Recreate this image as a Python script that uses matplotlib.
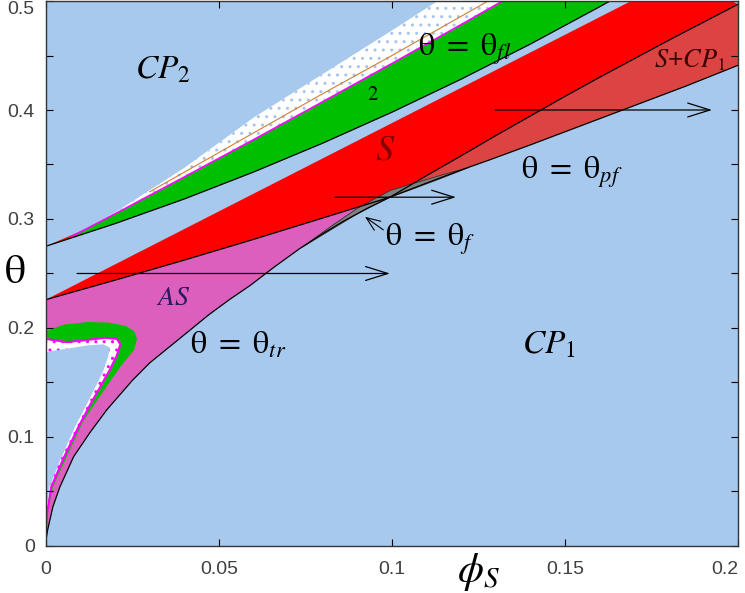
import numpy as np
import matplotlib
matplotlib.use('Agg')
import matplotlib.pyplot as plt

plt.rcParams['mathtext.fontset'] = 'stix'
plt.rcParams['font.family'] = ['Liberation Sans', 'DejaVu Sans']
plt.rcParams['hatch.linewidth'] = 1.0

# lower edge of the stable set: theta_tr up to the cusp, theta_pf beyond it
lower_x = [0, 0.0005, 0.002, 0.004, 0.008, 0.0127, 0.0176, 0.025, 0.03, 0.0358,
           0.042, 0.047, 0.053, 0.059, 0.066, 0.0734, 0.08, 0.086, 0.093, 0.0994,
           0.11, 0.12, 0.128, 0.14, 0.155, 0.17, 0.185, 0.2]
lower_y = [0.005, 0.015, 0.036, 0.054, 0.082, 0.104, 0.125, 0.152, 0.168, 0.183,
           0.199, 0.212, 0.226, 0.239, 0.256, 0.273, 0.2865, 0.298, 0.310, 0.320,
           0.333, 0.345, 0.354, 0.368, 0.386, 0.404, 0.422, 0.441]
CUSP = 19  # index of the cusp in lower_x

# bottom edge of S, left of the cusp (S / AS) and right of it (S / S+CP1)
s_low_pre_x = [0, 0.02, 0.04, 0.06, 0.08, 0.0994]
s_low_pre_y = [0.226, 0.2439, 0.2623, 0.2813, 0.3009, 0.320]
s_low_post_x = [0.0994, 0.11, 0.12, 0.13, 0.14, 0.15, 0.16, 0.17, 0.18, 0.19, 0.2]
s_low_post_y = [0.320, 0.3398, 0.358, 0.3765, 0.3945, 0.4125, 0.430, 0.447, 0.464,
                0.4805, 0.497]

# top edge of S (period-2 band above)
s_top_x = [0, 0.02, 0.04, 0.06, 0.08, 0.1, 0.12, 0.14, 0.16, 0.18]
s_top_y = [0.275, 0.2958, 0.3184, 0.3431, 0.3696, 0.398, 0.4283, 0.4605, 0.4947, 0.5307]

# top of the period-2 band and of the chaotic band (theta_fl)
p2_top_x = [0.0069, 0.02, 0.04, 0.06, 0.08, 0.1, 0.12, 0.14]
p2_top_y = [0.283, 0.3048, 0.3386, 0.3728, 0.4076, 0.4427, 0.4784, 0.5145]
chaos_top_x = [0.0069, 0.02, 0.04, 0.06, 0.08, 0.1, 0.12]
chaos_top_y = [0.283, 0.306, 0.347, 0.393, 0.433, 0.473, 0.514]
chaos_mid_x = [0.03, 0.04, 0.06, 0.08, 0.1, 0.12, 0.135]
chaos_mid_y = [0.325, 0.343, 0.379, 0.415, 0.450, 0.486, 0.513]

# tongue of CP2 inside AS, bottom left
tongue_p2_x = [0, 0.005, 0.012, 0.018, 0.023, 0.0255, 0.0263, 0.0255, 0.0214,
               0.0142, 0.0107, 0.006, 0.002, 0.0005, 0]
tongue_p2_y = [0.197, 0.203, 0.2055, 0.205, 0.202, 0.197, 0.19, 0.18, 0.164,
               0.131, 0.114, 0.082, 0.054, 0.03, 0.012]
tongue_chaos_x = [0, 0.006, 0.012, 0.017, 0.0205, 0.0215, 0.0205, 0.0185, 0.0125,
                  0.0095, 0.005, 0.0015, 0.0003, 0]
tongue_chaos_y = [0.190, 0.187, 0.189, 0.191, 0.19, 0.185, 0.175, 0.162, 0.128,
                  0.11, 0.08, 0.054, 0.03, 0.014]
tongue_cp2_x = [0, 0.006, 0.012, 0.0165, 0.0185, 0.018, 0.0165, 0.0115, 0.0085,
                0.0043, 0.001, 0.0001, 0]
tongue_cp2_y = [0.178, 0.181, 0.184, 0.185, 0.182, 0.174, 0.16, 0.128, 0.11,
                0.08, 0.054, 0.03, 0.016]

# thin fold sliver (theta_f) along the lower edge near the cusp
fold_x = [0.074, 0.082, 0.09, 0.0994, 0.106, 0.114, 0.122]
fold_lo = [0.274, 0.2894, 0.3048, 0.320, 0.3275, 0.337, 0.347]
fold_hi = [0.274, 0.2924, 0.3098, 0.326, 0.3325, 0.340, 0.347]

# horizontal sweeps (theta, phi start, phi end)
sweeps = [(0.40, 0.1298, 0.1925), (0.32, 0.0835, 0.1185), (0.25, 0.009, 0.0994)]

BLUE = '#a7c9ee'
RED = '#ff0000'
DARKRED = '#dc4444'
GREEN = '#00bf00'
PINK = '#dc5fbe'


def band(xa, ya, xb, yb):
    # polygon between curve a (forward) and curve b (backward)
    xa, ya, xb, yb = map(np.asarray, (xa, ya, xb, yb))
    return np.concatenate([xa, xb[::-1]]), np.concatenate([ya, yb[::-1]])


fig = plt.figure(figsize=(7.45, 5.93), dpi=100)
ax = fig.add_axes([0.0617, 0.0793, 0.9289, 0.9190])
ax.set_facecolor(BLUE)

# S + CP1 wedge right of the cusp
px, py = band(s_low_post_x, s_low_post_y, lower_x[CUSP:], lower_y[CUSP:])
ax.fill(px, py, color=DARKRED, lw=0)

# S band
sx = s_low_pre_x + s_low_post_x[1:]
sy = s_low_pre_y + s_low_post_y[1:]
px, py = band(s_top_x, s_top_y, sx, sy)
ax.fill(np.append(px, 0.2), np.append(py, 0.55), color=RED, lw=0)

# period-2 band and chaotic band above it
px, py = band(p2_top_x, p2_top_y, s_top_x, s_top_y)
ax.fill(px, py, color=GREEN, lw=0)
px, py = band(chaos_top_x, chaos_top_y, p2_top_x, p2_top_y)
ax.fill(px, py, facecolor='white', edgecolor='#a8c4ea', hatch='..', lw=0)
ax.plot(p2_top_x, p2_top_y, color='#ff00ff', lw=1.2)
ax.plot(chaos_mid_x, chaos_mid_y, color='#d08030', lw=0.8)

# AS region left of the cusp
px, py = band(s_low_pre_x, s_low_pre_y, lower_x[:CUSP + 1], lower_y[:CUSP + 1])
ax.fill(px, py, color=PINK, lw=0)

# CP2 tongue inside AS
ax.fill(tongue_p2_x, tongue_p2_y, color=GREEN, lw=0)
ax.fill(tongue_chaos_x, tongue_chaos_y, facecolor='white', edgecolor='#ff00ff',
        lw=1.5, hatch='..')
ax.fill(tongue_cp2_x, tongue_cp2_y, color=BLUE, lw=0)

# fold sliver
px, py = band(fold_x, fold_hi, fold_x, fold_lo)
ax.fill(px, py, facecolor='#808080', edgecolor='#303030', lw=0.6)

# boundary curves
ax.plot(lower_x, lower_y, color='k', lw=0.9)
ax.plot(s_top_x, s_top_y, color='k', lw=0.9)
ax.plot(sx, sy, color='k', lw=0.9)

for th, x0, x1 in sweeps:
    ax.annotate('', xy=(x1, th), xytext=(x0, th),
                arrowprops=dict(arrowstyle='->,head_length=1.6,head_width=0.5',
                                color='k', lw=0.9, shrinkA=0, shrinkB=0))
ax.annotate('', xy=(0.0922, 0.302), xytext=(0.0975, 0.290),
            arrowprops=dict(arrowstyle='->,head_length=1.0,head_width=0.4',
                            color='k', lw=0.8, shrinkA=0, shrinkB=0))

# region labels
ax.text(0.0338, 0.437, r'$CP_2$', fontsize=24, ha='center', va='center')
ax.text(0.121, 0.456, r'$\mathrm{\theta}\ =\ \mathrm{\theta}_{fl}$', fontsize=23,
        ha='center', va='center')
ax.text(0.0945, 0.414, r'$\mathrm{2}$', fontsize=15, ha='center', va='center')
ax.text(0.098, 0.363, r'$S$', fontsize=26, ha='center', va='center', color='#800000')
ax.text(0.186, 0.446, r'$S$+$CP_{1}$', fontsize=19, ha='center', va='center',
        color='#400000')
ax.text(0.152, 0.343, r'$\mathrm{\theta}\ =\ \mathrm{\theta}_{pf}$', fontsize=23,
        ha='center', va='center')
ax.text(0.111, 0.281, r'$\mathrm{\theta}\ =\ \mathrm{\theta}_{f}$', fontsize=23,
        ha='center', va='center')
ax.text(0.0367, 0.2275, r'$AS$', fontsize=20, ha='center', va='center', color='#301860')
ax.text(0.0555, 0.184, r'$\mathrm{\theta}\ =\ \mathrm{\theta}_{tr}$', fontsize=23,
        ha='center', va='center')
ax.text(0.1454, 0.184, r'$CP_1$', fontsize=24, ha='center', va='center')

ax.set_xlim(0, 0.2)
ax.set_ylim(0, 0.5)
ax.set_xticks([0, 0.05, 0.1, 0.15, 0.2])
ax.set_xticklabels(['0', '0.05', '0.1', '0.15', '0.2'])
ax.set_yticks([0, 0.1, 0.2, 0.3, 0.4, 0.5])
ax.set_yticklabels(['0', '0.1', '0.2', '0.3', '0.4', '0.5'])
ax.set_yticks([0.05, 0.15, 0.25, 0.35, 0.45], minor=True)
ax.tick_params(which='both', direction='in', top=True, right=True, length=5,
               width=0.8, labelsize=14, labelcolor='#404040')
ax.tick_params(axis='x', pad=11)
ax.tick_params(axis='y', pad=8)
ax.get_xticklabels()[-1].set_horizontalalignment('right')
ax.get_yticklabels()[-1].set_verticalalignment('top')
for sp in ax.spines.values():
    sp.set_linewidth(1.0)
    sp.set_color('#333333')

fig.text(0.020, 0.541, r'$\mathrm{\theta}$', fontsize=30, ha='center', va='center')
fig.text(0.642, 0.035, r'$\phi_S$', fontsize=30, ha='center', va='center')

fig.savefig('out.png', dpi=100)
